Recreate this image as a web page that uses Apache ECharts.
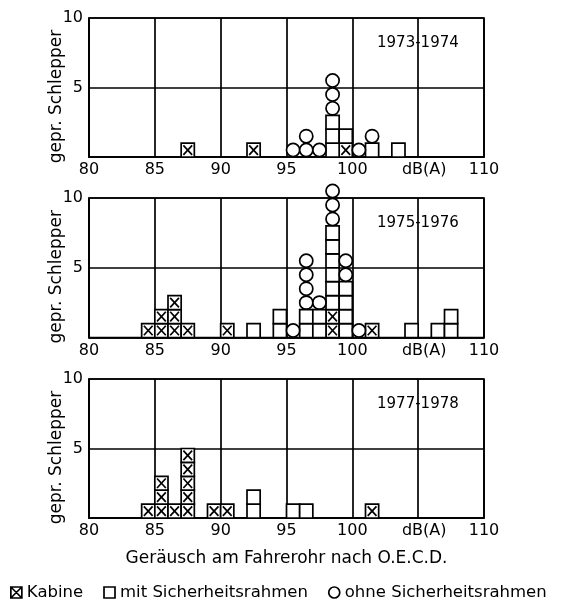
<!DOCTYPE html>
<html>
<head>
<meta charset="utf-8">
<script src="https://cdn.jsdelivr.net/npm/echarts@6/dist/echarts.min.js"></script>
<style>html,body{margin:0;padding:0;background:#fff;}#c{width:562px;height:602px;}</style>
</head>
<body>
<div id="c"></div>
<script>
// ---- data (class lower bound in dB(A), counts per kind) ----
const periods = ['1973-1974', '1975-1976', '1977-1978'];
const kinds = ['Kabine', 'mit Sicherheitsrahmen', 'ohne Sicherheitsrahmen'];
const xTicks = [80, 85, 90, 95, 100, 105, 110];
const xTickLabels = ['80', '85', '90', '95', '100', 'dB(A)', '110'];

const bins1 = [87, 92, 95, 96, 97, 98, 99, 100, 101, 103];
const kab1  = [1, 1, 0, 0, 0, 0, 1, 0, 0, 0];
const mit1  = [0, 0, 0, 0, 0, 3, 1, 0, 1, 1];
const ohne1 = [0, 0, 1, 2, 1, 3, 0, 1, 1, 0];

const bins2 = [84, 85, 86, 87, 90, 92, 94, 95, 96, 97, 98, 99, 100, 101, 104, 106, 107];
const kab2  = [1, 2, 3, 1, 1, 0, 0, 0, 0, 0, 2, 0, 0, 1, 0, 0, 0];
const mit2  = [0, 0, 0, 0, 0, 1, 2, 0, 2, 2, 6, 4, 0, 0, 1, 1, 2];
const ohne2 = [0, 0, 0, 0, 0, 0, 0, 1, 4, 1, 3, 2, 1, 0, 0, 0, 0];

const bins3 = [84, 85, 86, 87, 89, 90, 92, 95, 96, 101];
const kab3  = [1, 3, 1, 5, 1, 1, 0, 0, 0, 1];
const mit3  = [0, 0, 0, 0, 0, 0, 2, 1, 1, 0];
const ohne3 = [0, 0, 0, 0, 0, 0, 0, 0, 0, 0];

// ---- build stacked cells ----
function cells(bins, k, s, o) {
  const out = [[], [], []];
  bins.forEach((b, i) => {
    let lv = 0;
    [k[i], s[i], o[i]].forEach((n, kind) => {
      for (let j = 0; j < n; j++) { lv++; out[kind].push([b, lv, kind]); }
    });
  });
  return out;
}
const panels = [
  cells(bins1, kab1, mit1, ohne1),
  cells(bins2, kab2, mit2, ohne2),
  cells(bins3, kab3, mit3, ohne3)
];

const FONT = 'DejaVu Sans';
const FS = 16;
const LW = 1.7;
const tops = [18, 198, 379];
const heights = [139, 139.5, 139];

function renderCell(params, api) {
  const x0 = api.value(0), lv = api.value(1), kind = api.value(2);
  const p0 = api.coord([x0, lv - 1]);
  const p1 = api.coord([x0 + 1, lv]);
  const x = p0[0], y = p1[1], w = p1[0] - p0[0], h = p0[1] - p1[1];
  const st = { stroke: '#000', lineWidth: LW, fill: '#fff' };
  if (kind === 2) {
    return { type: 'circle', shape: { cx: x + w / 2, cy: y + h / 2, r: Math.min(w, h) / 2 }, style: st };
  }
  const children = [{ type: 'rect', shape: { x: x, y: y, width: w, height: h }, style: st }];
  if (kind === 0) {
    const d = 2.2;
    children.push({ type: 'line', shape: { x1: x + d, y1: y + d, x2: x + w - d, y2: y + h - d }, style: { stroke: '#000', lineWidth: LW } });
    children.push({ type: 'line', shape: { x1: x + w - d, y1: y + d, x2: x + d, y2: y + h - d }, style: { stroke: '#000', lineWidth: LW } });
  }
  return { type: 'group', children: children };
}

const grids = [], xAxes = [], yAxes = [], series = [], titles = [];
panels.forEach((pc, i) => {
  grids.push({ left: 89, width: 395, top: tops[i], height: heights[i], show: true, borderColor: '#000', borderWidth: LW, backgroundColor: 'transparent' });
  xAxes.push({
    type: 'value', gridIndex: i, min: 80, max: 110, interval: 5,
    axisLine: { show: true, lineStyle: { color: '#000', width: LW } },
    axisTick: { show: false },
    splitLine: { show: true, lineStyle: { color: '#000', width: LW } },
    axisLabel: {
      margin: 5, color: '#000', fontFamily: FONT, fontSize: FS,
      formatter: v => { const t = xTickLabels[xTicks.indexOf(v)]; return t === 'dB(A)' ? '{u|dB(A)}' : t; },
      rich: { u: { fontFamily: FONT, fontSize: FS, color: '#000', padding: [0, 0, 0, 12] } }
    },
    name: i === 2 ? 'Geräusch am Fahrerohr nach O.E.C.D.' : '',
    nameLocation: 'middle', nameGap: 32, nameMoveOverlap: false,
    nameTextStyle: { color: '#000', fontFamily: FONT, fontSize: 17 }
  });
  yAxes.push({
    type: 'value', gridIndex: i, min: 0, max: 10, interval: 5,
    axisLine: { show: true, lineStyle: { color: '#000', width: LW } },
    axisTick: { show: false },
    splitLine: { show: true, lineStyle: { color: '#000', width: LW } },
    axisLabel: { margin: 6, color: '#000', fontFamily: FONT, fontSize: FS, formatter: v => v === 0 ? '' : String(v) },
    name: 'gepr. Schlepper', nameLocation: 'middle', nameRotate: 90, nameGap: 24, nameMoveOverlap: false,
    nameTextStyle: { color: '#000', fontFamily: FONT, fontSize: 17, padding: [0, 18, 0, 0] }
  });
  pc.forEach((data, kind) => {
    series.push({
      type: 'custom', name: kinds[kind], xAxisIndex: i, yAxisIndex: i,
      renderItem: renderCell, data: data, itemStyle: { color: '#fff', borderColor: '#000' },
      silent: true, animation: false
    });
  });
  titles.push({ text: periods[i], left: 372, top: tops[i] + 13, textStyle: { color: '#000', fontFamily: FONT, fontSize: 15, fontWeight: 'normal' } });
});

const chart = echarts.init(document.getElementById('c'), null, { renderer: 'canvas' });
chart.setOption({
  animation: false,
  backgroundColor: '#fff',
  title: titles,
  grid: grids, xAxis: xAxes, yAxis: yAxes, series: series,
  legend: {
    left: 10, top: 584, padding: 0, width: 552, itemWidth: 11, itemHeight: 11, itemGap: 20,
    selectedMode: false,
    textStyle: { color: '#000', fontFamily: FONT, fontSize: 16.5 },
    itemStyle: { color: '#fff', borderColor: '#000', borderWidth: LW },
    data: [
      { name: kinds[0], icon: 'path://M0,0L10,0L10,10L0,10ZM0,0L10,10M10,0L0,10' },
      { name: kinds[1], icon: 'rect' },
      { name: kinds[2], icon: 'circle' }
    ]
  }
});
</script>
</body>
</html>
